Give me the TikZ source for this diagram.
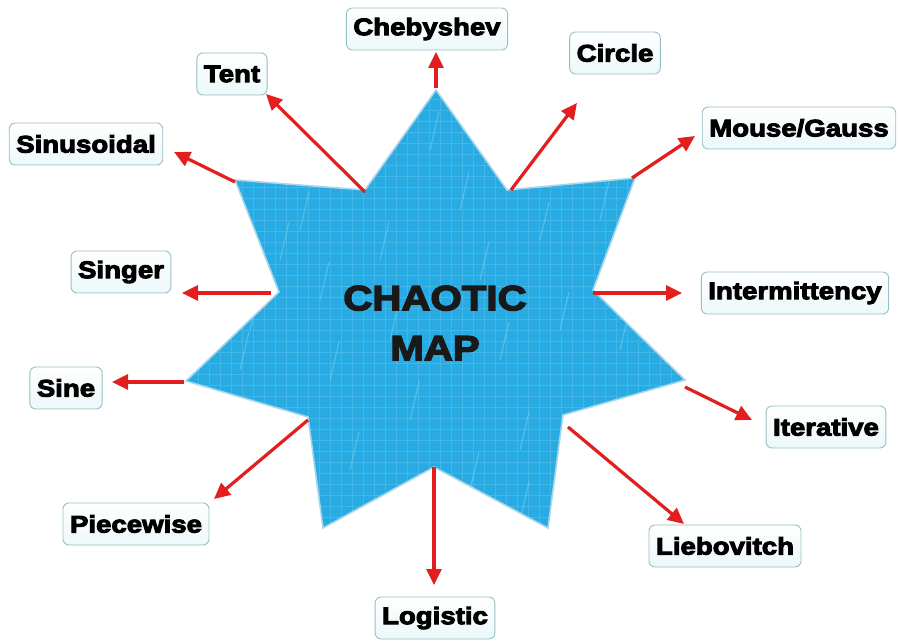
\documentclass[tikz,border=0pt]{standalone}
\usepackage{fontspec}
\usetikzlibrary{arrows.meta,shadows}
\newfontfamily\lblfont{Liberation Sans Bold}[FakeStretch=1.15,FakeBold=4]
\definecolor{starblue}{RGB}{40,170,226}
\definecolor{stargrid}{RGB}{120,212,244}
\definecolor{staredge}{RGB}{170,214,236}
\definecolor{boxedge}{RGB}{150,192,196}
\definecolor{boxbot}{RGB}{236,248,250}
\definecolor{arrred}{RGB}{226,30,30}
\tikzset{
  lbl/.style={draw=boxedge, line width=0.9pt, rounded corners=6pt,
    top color=white, bottom color=boxbot, inner xsep=7pt, inner ysep=0pt,
    minimum height=42pt, font=\lblfont\fontsize{24}{28}\selectfont,
    text=black, anchor=center},
  arr/.style={draw=arrred, line width=3.2pt,
    -{Triangle[length=16pt,width=15pt]}}
}
\begin{document}
\begin{tikzpicture}[x=1pt,y=-1pt]
\useasboundingbox (0,0) rectangle (898,644);
% star vertices
\coordinate (o1) at (436,90);
\coordinate (i1) at (507,190);
\coordinate (o2) at (635,178);
\coordinate (i2) at (593,290);
\coordinate (o3) at (685,380);
\coordinate (i3) at (563,415);
\coordinate (o4) at (548,528);
\coordinate (i4) at (434,467);
\coordinate (o5) at (323,528);
\coordinate (i5) at (308,417);
\coordinate (o6) at (186,381);
\coordinate (i6) at (279,292);
\coordinate (o7) at (235,180);
\coordinate (i7) at (365,190);
% shadow
\fill[black!15, shift={(3,-3)}] (o1)--(i1)--(o2)--(i2)--(o3)--(i3)--(o4)--(i4)--(o5)--(i5)--(o6)--(i6)--(o7)--(i7)--cycle;
% star
\fill[starblue] (o1)--(i1)--(o2)--(i2)--(o3)--(i3)--(o4)--(i4)--(o5)--(i5)--(o6)--(i6)--(o7)--(i7)--cycle;
\begin{scope}
\clip (o1)--(i1)--(o2)--(i2)--(o3)--(i3)--(o4)--(i4)--(o5)--(i5)--(o6)--(i6)--(o7)--(i7)--cycle;
\draw[stargrid, line width=0.5pt, opacity=0.35] (180,85) grid[step=11pt] (690,535);
\foreach \x/\y in {220/200,300/230,380/260,460/210,540/240,600/300,250/330,330/380,410/420,500/360,560/330,350/470,470/490,620/350,280/260,430/150,520/450,240/370,480/280,600/220,390/340,320/300,520/520}{
  \draw[stargrid, opacity=0.5, line width=1.2pt] (\x,\y) -- ++(9,-38);
}
\end{scope}
\draw[staredge, line width=1.6pt, line join=miter] (o1)--(i1)--(o2)--(i2)--(o3)--(i3)--(o4)--(i4)--(o5)--(i5)--(o6)--(i6)--(o7)--(i7)--cycle;
% center text
\node[font=\lblfont\fontsize{35}{50}\selectfont, align=center, text=black!90] (center) at (435,323) {CHAOTIC\\MAP};
% label boxes
\node[lbl] (cheb) at (427,29) {Chebyshev};
\node[lbl] (circ) at (615,53) {Circle};
\node[lbl] (mouse) at (799,128) {Mouse/Gauss};
\node[lbl] (inter) at (795,293) {Intermittency};
\node[lbl] (iter) at (826,427) {Iterative};
\node[lbl] (lieb) at (725,546) {Liebovitch};
\node[lbl] (logi) at (435,618) {Logistic};
\node[lbl] (piece) at (136,524) {Piecewise};
\node[lbl] (sine) at (66,388) {Sine};
\node[lbl] (singer) at (121,272) {Singer};
\node[lbl] (sinus) at (86,144) {Sinusoidal};
\node[lbl] (tent) at (232,74) {Tent};
% arrow tips
\coordinate (tcheb) at (436,52);
\coordinate (tcirc) at (577,103);
\coordinate (tmouse) at (695,136);
\coordinate (tinter) at (682,293);
\coordinate (titer) at (752,420);
\coordinate (tlieb) at (684,524);
\coordinate (tlogi) at (434,585);
\coordinate (tpiece) at (214,499);
\coordinate (tsine) at (112,382);
\coordinate (tsinger) at (182,293);
\coordinate (tsinus) at (174,152);
\coordinate (ttent) at (266,94);
% arrow tails
\coordinate (scheb) at (436,88);
\coordinate (scirc) at (511,190);
\coordinate (smouse) at (632,178);
\coordinate (sinter) at (593,293);
\coordinate (siter) at (685,387);
\coordinate (slieb) at (568,427);
\coordinate (slogi) at (434,467);
\coordinate (spiece) at (308,420);
\coordinate (ssine) at (184,382);
\coordinate (ssinger) at (271,293);
\coordinate (ssinus) at (235,182);
\coordinate (stent) at (365,192);
\foreach \n in {cheb,circ,mouse,inter,iter,lieb,logi,piece,sine,singer,sinus,tent}{
  \draw[arr] (s\n) -- (t\n);
}
\end{tikzpicture}
\end{document}
